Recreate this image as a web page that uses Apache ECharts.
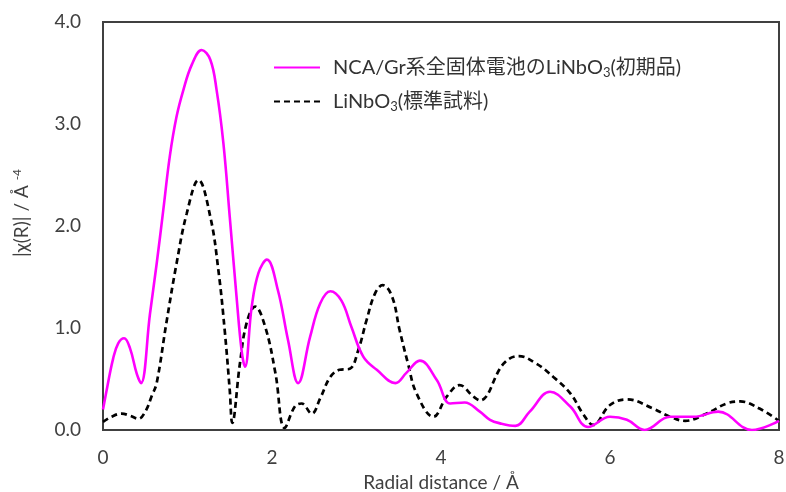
<!DOCTYPE html>
<html>
<head>
<meta charset="utf-8">
<script src="https://cdn.jsdelivr.net/npm/echarts@6/dist/echarts.min.js"></script>
<style>
html,body{margin:0;padding:0;background:#fff;}
#chart{width:786px;height:492px;}
</style>
</head>
<body>
<div id="chart"></div>
<script>
// Radial distance (Å) and |χ(R)| values
const ncaX = [0, 0.05, 0.12, 0.18, 0.25, 0.32, 0.40, 0.45, 0.556, 0.635, 0.714, 0.79, 0.87, 0.95, 1.05, 1.168, 1.27, 1.345, 1.425, 1.50, 1.58, 1.64, 1.68, 1.76, 1.84, 1.94, 2.07, 2.19, 2.31, 2.45, 2.57, 2.69, 2.82, 2.94, 3.08, 3.24, 3.46, 3.59, 3.75, 3.95, 4.11, 4.28, 4.46, 4.58, 4.70, 4.88, 5.05, 5.29, 5.53, 5.74, 6.00, 6.20, 6.41, 6.71, 6.99, 7.28, 7.68, 8.00];
const ncaY = [0.20, 0.42, 0.70, 0.85, 0.90, 0.80, 0.55, 0.46, 1.14, 1.63, 2.16, 2.68, 3.07, 3.33, 3.58, 3.725, 3.63, 3.33, 2.81, 2.09, 1.31, 0.78, 0.62, 1.21, 1.54, 1.67, 1.37, 0.88, 0.46, 0.91, 1.24, 1.36, 1.27, 1.01, 0.72, 0.59, 0.46, 0.56, 0.68, 0.49, 0.26, 0.27, 0.18, 0.10, 0.065, 0.04, 0.18, 0.375, 0.23, 0.03, 0.13, 0.10, 0.00, 0.13, 0.13, 0.18, 0.00, 0.09];

const refX = [0, 0.10, 0.22, 0.32, 0.42, 0.50, 0.58, 0.635, 0.75, 0.87, 0.99, 1.13, 1.27, 1.365, 1.44, 1.50, 1.53, 1.62, 1.70, 1.80, 1.92, 2.04, 2.15, 2.27, 2.35, 2.47, 2.57, 2.69, 2.80, 2.92, 3.02, 3.12, 3.22, 3.31, 3.42, 3.51, 3.61, 3.71, 3.91, 4.07, 4.22, 4.38, 4.46, 4.74, 4.92, 5.13, 5.33, 5.53, 5.68, 5.80, 6.00, 6.20, 6.51, 6.71, 6.89, 7.14, 7.38, 7.54, 7.77, 8.00];
const refY = [0.08, 0.13, 0.16, 0.14, 0.11, 0.18, 0.34, 0.46, 1.05, 1.63, 2.12, 2.45, 2.09, 1.57, 0.98, 0.39, 0.07, 0.65, 1.05, 1.21, 1.01, 0.56, 0.02, 0.23, 0.26, 0.16, 0.31, 0.52, 0.59, 0.60, 0.78, 1.08, 1.34, 1.42, 1.31, 0.98, 0.65, 0.36, 0.13, 0.33, 0.44, 0.33, 0.29, 0.65, 0.725, 0.65, 0.52, 0.36, 0.16, 0.05, 0.245, 0.30, 0.21, 0.13, 0.09, 0.16, 0.26, 0.28, 0.21, 0.09];

const xTicks = [0, 2, 4, 6, 8];
const yTicks = [0, 1, 2, 3, 4];

const seriesNames = ['NCA/Gr系全固体電池のLiNbO3(初期品)', 'LiNbO3(標準試料)'];

const FONT = 'Lato, "Noto Sans CJK JP", sans-serif';
const TXT = '#404040';

const pairs = (xs, ys) => xs.map((x, i) => [x, ys[i]]);

const chart = echarts.init(document.getElementById('chart'), null, {renderer: 'canvas'});
chart.setOption({
  animation: false,
  backgroundColor: '#fff',
  textStyle: {fontFamily: FONT},
  grid: {left: 103, right: 7, top: 22, bottom: 62, outerBoundsMode: 'none', containLabel: false,
    show: true, borderColor: '#404040', borderWidth: 2, backgroundColor: 'transparent'},
  legend: {
    orient: 'vertical',
    left: 273, top: 56, padding: 0,
    itemWidth: 46, itemHeight: 14, itemGap: 11,
    itemStyle: {opacity: 0},
    data: seriesNames,
    textStyle: {
      fontFamily: FONT, fontSize: 20, color: '#333',
      padding: [0, 0, 0, 8],
      rich: {
        a: {fontFamily: FONT, fontSize: 20, color: '#333', lineHeight: 24},
        s: {fontFamily: FONT, fontSize: 13, color: '#333', lineHeight: 24, padding: [10, 0, 0, 0]}
      }
    },
    formatter: function (name) {
      const p = name.split('O3');
      return '{a|' + p[0] + 'O}{s|3}{a|' + p[1] + '}';
    }
  },
  xAxis: {
    type: 'value', min: xTicks[0], max: xTicks[xTicks.length - 1], interval: 2,
    name: 'Radial distance / Å', nameLocation: 'middle', nameGap: 43,
    nameTextStyle: {fontFamily: FONT, fontSize: 19, color: TXT},
    axisLine: {show: true, lineStyle: {color: '#404040', width: 2}},
    axisTick: {show: false},
    splitLine: {show: false},
    axisLabel: {fontFamily: FONT, fontSize: 19, color: TXT, margin: 18,
      formatter: v => xTicks.includes(v) ? String(v) : ''}
  },
  yAxis: {
    type: 'value', min: yTicks[0], max: yTicks[yTicks.length - 1], interval: 1,
    name: '{a||χ(R)| / Å }{s|-4}', nameLocation: 'middle', nameGap: 70,
    nameTextStyle: {fontFamily: FONT, fontSize: 19, color: TXT,
      padding: [0, 0, 0, 26],
      rich: {
        a: {fontFamily: FONT, fontSize: 19, color: TXT},
        s: {fontFamily: FONT, fontSize: 12, color: TXT, padding: [0, 0, 10, 0]}
      }
    },
    axisLine: {show: true, lineStyle: {color: '#404040', width: 2}},
    axisTick: {show: false},
    splitLine: {show: false},
    axisLabel: {fontFamily: FONT, fontSize: 19, color: TXT, margin: 22,
      formatter: v => yTicks.includes(v) ? v.toFixed(1) : ''}
  },
  series: [
    {
      name: seriesNames[0], type: 'line', data: pairs(ncaX, ncaY),
      smooth: 0.4, symbol: 'none', z: 3,
      lineStyle: {color: '#FF00FF', width: 2.6},
      itemStyle: {color: '#FF00FF'}
    },
    {
      name: seriesNames[1], type: 'line', data: pairs(refX, refY),
      smooth: 0.4, symbol: 'none', z: 2,
      lineStyle: {color: '#000', width: 2.7, type: [6, 4]},
      itemStyle: {color: '#000'}
    }
  ]
});
</script>
</body>
</html>
